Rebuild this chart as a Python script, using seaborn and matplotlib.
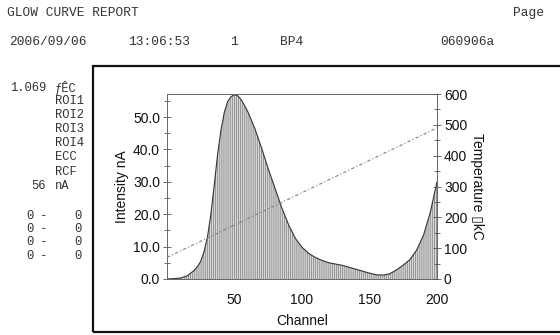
import matplotlib
matplotlib.use("Agg")
import matplotlib.pyplot as plt
from matplotlib.patches import Rectangle
from matplotlib.ticker import MultipleLocator
import seaborn as sns
import pandas as pd

# ---- data ----
channels = [0, 5, 10, 15, 20, 22.5, 25, 27.5, 30, 32.5, 35, 37.5, 40, 42.5, 45, 47.5, 50,
            52.5, 55, 57.5, 60, 62.5, 65, 70, 75, 80, 85, 90, 95,
            100, 105, 110, 115, 120, 125, 130, 135, 140, 145, 150, 155, 160, 165, 170, 175,
            180, 185, 190, 195, 200]
intensity = [0.0, 0.1, 0.3, 1.0, 2.6, 3.8, 5.5, 8.5, 13.0, 20.0, 29.0, 38.5, 46.0, 51.5,
             54.8, 56.3, 56.9, 56.5, 55.3, 53.5, 51.5, 49.0, 46.5, 40.5, 34.0, 28.0, 22.0,
             16.8, 12.6, 9.8, 7.9, 6.6, 5.7, 5.0, 4.6, 4.2, 3.6, 3.0, 2.4, 1.8, 1.3, 1.2,
             1.6, 2.8, 4.3, 6.0, 9.0, 13.5, 20.5, 30.0]
temp_channels = [0, 200]
temperature = [70, 490]

header_line1 = "GLOW CURVE REPORT"
header_line2 = ["2006/09/06", "13:06:53", "1", "BP4", "060906a"]
side_values = ["1.069", "", "", "", "", "", "", "56"]
side_labels = ["ƒÊC", "ROI1", "ROI2", "ROI3", "ROI4", "ECC", "RCF", "nA"]
roi_rows = [("0", "0"), ("0", "0"), ("0", "0"), ("0", "0")]

x_label = "Channel"
y_label = "Intensity nA"
y2_label = "Temperature \u25AFkC"

sns.set_theme(style="white")
plt.rcParams["font.family"] = ["Liberation Sans", "DejaVu Sans"]

W, H = 560, 335
fig = plt.figure(figsize=(W / 100, H / 100), dpi=100)


def fx(px):
    return px / W


def fy(py):
    return 1 - py / H


ax = fig.add_axes([fx(167), fy(279), fx(437) - fx(167), fy(94) - fy(279)])
df = pd.DataFrame({"Channel": channels, "Intensity": intensity})
tdf = pd.DataFrame({"Channel": temp_channels, "Temperature": temperature})

plt.rcParams["hatch.linewidth"] = 0.5
ax.fill_between(df["Channel"], 0, df["Intensity"], facecolor="#d8d8d8",
                edgecolor="#7a7a7a", hatch="||||||||", linewidth=0)
sns.lineplot(data=df, x="Channel", y="Intensity", ax=ax, color="#333333", lw=0.8)

ax.set_xlim(0, 200)
ax.set_ylim(0, 57.1)
ax.xaxis.set_major_locator(MultipleLocator(50))
ax.xaxis.set_minor_locator(MultipleLocator(10))
ax.yaxis.set_major_locator(MultipleLocator(10))
ax.yaxis.set_minor_locator(MultipleLocator(5))
ax.set_xticks([50, 100, 150, 200])
ax.yaxis.set_major_formatter(matplotlib.ticker.FormatStrFormatter("%.1f"))
ax.tick_params(axis="both", which="both", direction="inout", color="#555555",
               labelsize=10, labelcolor="#111111", width=0.6)
ax.tick_params(axis="x", which="major", length=6, pad=7)
ax.tick_params(axis="x", which="minor", length=5)
ax.tick_params(axis="y", which="major", length=6, pad=2)
ax.tick_params(axis="y", which="minor", length=4)
ax.set_xlabel(x_label, fontsize=10, color="#111111", labelpad=5)
ax.set_ylabel(y_label, fontsize=10, color="#111111", labelpad=3)
for s in ax.spines.values():
    s.set_color("#666666")
    s.set_linewidth(0.7)

ax2 = ax.twinx()
sns.lineplot(data=tdf, x="Channel", y="Temperature", ax=ax2, color="#808080",
             lw=0.8, linestyle=(0, (3, 2, 1, 2)))
ax2.set_ylim(0, 600)
ax2.yaxis.set_major_locator(MultipleLocator(100))
ax2.yaxis.set_minor_locator(MultipleLocator(50))
ax2.tick_params(axis="y", which="both", direction="inout", color="#555555",
                labelsize=10, labelcolor="#111111", width=0.6)
ax2.tick_params(axis="y", which="major", length=6, pad=2)
ax2.tick_params(axis="y", which="minor", length=4)
ax2.set_ylabel(y2_label, fontsize=10, color="#111111", rotation=-90, labelpad=12)
ax2.grid(False)
for s in ax2.spines.values():
    s.set_visible(False)

# outer report frame
fig.patches.append(Rectangle((fx(93), fy(332)), fx(566) - fx(93), fy(66) - fy(332),
                             transform=fig.transFigure, fill=False,
                             edgecolor="#111111", linewidth=1.6))

mono = dict(family="Liberation Mono", color="#333333")
fig.text(fx(7), fy(13), header_line1, fontsize=9.3, va="center", ha="left", **mono)
fig.text(fx(513), fy(13), "Page", fontsize=9.3, va="center", ha="left", **mono)
for txt, px in zip(header_line2, [9, 128, 230, 280, 440]):
    fig.text(fx(px), fy(42), txt, fontsize=9.3, va="center", ha="left", **mono)

row_y = [88, 101, 115, 129, 143, 157, 172, 186]
for val, lab, py in zip(side_values, side_labels, row_y):
    if val:
        fig.text(fx(46), fy(py), val, fontsize=8.7, va="center", ha="right", **mono)
    fig.text(fx(55), fy(py), lab, fontsize=8.7, va="center", ha="left", **mono)

for (a, b), py in zip(roi_rows, [216, 229, 242, 256]):
    fig.text(fx(30), fy(py), a, fontsize=8.7, va="center", ha="center", **mono)
    fig.text(fx(44), fy(py), "-", fontsize=8.7, va="center", ha="center", **mono)
    fig.text(fx(78), fy(py), b, fontsize=8.7, va="center", ha="center", **mono)

fig.savefig("out.png", dpi=100)
